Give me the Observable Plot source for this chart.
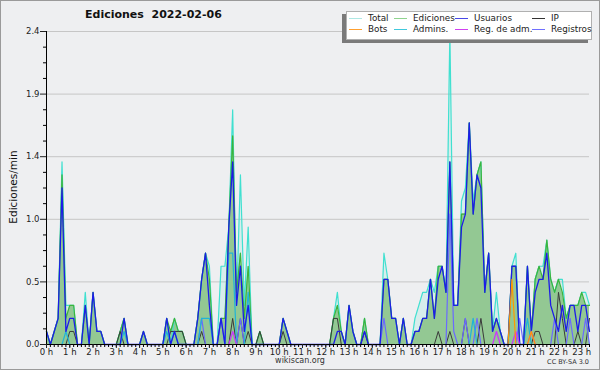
<!DOCTYPE html>
<html><head><meta charset="utf-8">
<script src="https://cdn.jsdelivr.net/npm/d3@7"></script>
<script src="https://cdn.jsdelivr.net/npm/@observablehq/plot@0.6"></script>
<style>
body{margin:0;background:#fff;}
#wrap{position:relative;width:600px;height:370px;background:#eeeff1;font-family:"DejaVu Sans",sans-serif;overflow:hidden;}
#chart{position:absolute;left:0;top:0;}
#frame{position:absolute;left:0;top:0;width:600px;height:370px;box-sizing:border-box;border:1px solid #9a9a9a;pointer-events:none;}
#title{position:absolute;left:85px;top:8px;font-weight:bold;font-size:11px;color:#111;white-space:pre;}
#ylab{position:absolute;left:13px;top:187px;font-size:10.5px;color:#111;transform:translate(-50%,-50%) rotate(-90deg);white-space:nowrap;}
#foot{position:absolute;left:300px;top:356px;font-size:8px;color:#333;transform:translateX(-50%);}
#cc{position:absolute;right:11px;top:358px;font-size:6.5px;color:#333;}
#legend{position:absolute;left:346px;top:11px;width:246px;height:29px;background:#fff;border:1px solid #b0b0b0;box-sizing:border-box;box-shadow:-4px 3px 0 #7a7a7a;}
.sw{position:absolute;width:13px;height:0;border-top:1.3px solid;}
.lt{position:absolute;font-size:8.8px;color:#222;line-height:10px;white-space:nowrap;}
</style></head>
<body><div id="wrap"><div id="chart"></div>
<div id="title">Ediciones  2022-02-06</div>
<div id="ylab">Ediciones/min</div>
<div id="foot">wikiscan.org</div>
<div id="cc">CC BY-SA 3.0</div>
<div id="legend"></div>
<div id="frame"></div>
</div>
<script>
// 10-minute bins from 0:00 to 23:20 (edits/min)
const total = [
 0.1,0,0.1,0.2,1.4,0.3, 0.3,0.3,0,0,0.4,0, 0.4,0.1,0.1,0,0,0, 0,0.1,0.2,0,0,0,
 0,0.1,0,0,0,0, 0,0.2,0,0.2,0.1,0.1, 0,0,0,0.2,0.5,0.7, 0.6,0,0,0.6,0.6,0.9,
 1.8,0.3,1.3,0.3,0.9,0, 0,0.1,0,0,0,0, 0,0.2,0.1,0,0,0, 0,0,0,0,0,0,
 0,0,0.2,0.4,0.1,0, 0.3,0.1,0,0,0.2,0, 0,0,0,0.7,0.5,0.2, 0.2,0,0.2,0,0,0.2,
 0.3,0.4,0.4,0.5,0.4,0.6, 0.6,0.4,2.4,0.3,0.3,1.1, 1.2,1.7,1.1,1.3,1.4,0.4, 0.7,0.1,0.4,0.1,0,0,
 0.6,0.7,0,0,0.6,0.1, 0.5,0.6,0.6,0.8,0.5,0.4, 0.5,0.5,0.2,0.3,0.3,0.3, 0.4,0.4,0.3
];
const ediciones = [
 0.1,0,0.1,0.2,1.3,0.2, 0.3,0.3,0,0,0.3,0, 0.4,0.1,0.1,0,0,0, 0,0.1,0.2,0,0,0,
 0,0.1,0,0,0,0, 0,0.2,0.1,0.2,0.1,0.1, 0,0,0,0.2,0.5,0.7, 0.5,0,0,0.2,0.2,0.9,
 1.6,0.4,0.7,0.2,0.6,0, 0,0.1,0,0,0,0, 0,0.2,0.1,0,0,0, 0,0,0,0,0,0,
 0,0,0.2,0.3,0.1,0, 0.3,0.1,0,0,0.2,0, 0,0,0,0.5,0.5,0.2, 0.2,0,0.2,0,0,0.1,
 0.1,0.2,0.2,0.5,0.2,0.6, 0.6,0.4,1.4,0.3,0.3,1.0, 1.0,1.7,1.0,1.3,1.4,0.4, 0.7,0.1,0.2,0.1,0,0,
 0.6,0.6,0,0,0.6,0.1, 0.5,0.6,0.5,0.8,0.5,0.4, 0.5,0.4,0.2,0.3,0.3,0.3, 0.4,0.3,0.3
];
const usuarios = [
 0.1,0,0.1,0.2,1.2,0.1, 0.2,0.2,0,0,0.3,0, 0.4,0.1,0.1,0,0,0, 0,0,0.2,0,0,0,
 0,0.1,0,0,0,0, 0,0.2,0,0.1,0,0, 0,0,0,0.2,0.5,0.7, 0.3,0,0,0.2,0,0.9,
 1.4,0.3,0.6,0.1,0.3,0, 0,0,0,0,0,0, 0,0.2,0.1,0,0,0, 0,0,0,0,0,0,
 0,0,0,0.1,0.1,0, 0.3,0.1,0,0,0.1,0, 0,0,0,0.5,0.5,0.2, 0.2,0,0.2,0,0,0.1,
 0.1,0.2,0.2,0.5,0.2,0.5, 0.6,0.4,1.4,0.3,0.3,0.9, 1.0,1.7,1.0,1.3,1.2,0.4, 0.7,0.1,0.2,0.1,0,0,
 0.6,0.6,0,0,0.6,0.1, 0.4,0.5,0.5,0.7,0.3,0.2, 0.1,0.3,0.1,0.3,0.3,0.1, 0.3,0.3,0.1
];
// sparse series: bin index and value
const ipBins = [6,7,19,32,33,34,35,40,48,50,52,55,61,74,75,82,101,104,108,112,126,127,132,133,137,140];
const ipVals = [0.1,0.1,0.1,0.1,0.1,0.1,0.1,0.1,0.2,0.2,0.1,0.1,0.1,0.2,0.2,0.1,0.1,0.1,0.2,0.2,0.1,0.1,0.4,0.2,0.1,0.2];
const botsBins = [120,125];
const botsVals = [0.5,0.1];
const adminsBins = [5,20,31,33,40,41,42,47,48,52,110,124];
const adminsVals = [0.1,0.1,0.1,0.1,0.2,0.2,0.2,0.7,0.7,0.4,0.2,0.2];
const regAdmBins = [48,116,121,125];
const regAdmVals = [0.1,0.1,0.1,0.1];
const registrosBins = [40,45,50,87,104,105,108,111,122,131,135,139];
const registrosVals = [0.2,0.2,0.2,0.2,1.0,0.1,0.2,0.2,0.2,0.2,0.2,0.2];

const yTickValues = [0, 0.48, 0.96, 1.44, 1.92, 2.4];
const yTickLabels = ["0.0", "0.5", "1.0", "1.4", "1.9", "2.4"];
const yMinorTicks = [0.12, 0.24, 0.36, 0.6, 0.72, 0.84, 1.08, 1.2, 1.32, 1.56, 1.68, 1.8, 2.04, 2.16, 2.28];
const xHourTicks = [0,1,2,3,4,5,6,7,8,9,10,11,12,13,14,15,16,17,18,19,20,21,22,23];

const legendNames = ["Total","Ediciones","Usuarios","IP","Bots","Admins.","Reg. de adm.","Registros"];
const legendColors = ["#aee8e4","#8fd48f","#4848e8","#333333","#ffa030","#40c8dc","#d040f0","#7070ff"];

const N = total.length;
const expand = (bins, vals) => { const a = new Array(N).fill(0); bins.forEach((b, k) => a[b] = vals[k]); return a; };
const rows = arr => arr.map((v, i) => ({t: i / 6, v}));

const C = {
  total: "#40e0d0", ed: "#3cb43c", usu: "#1c1ce8", ip: "#3a3a3a",
  bots: "#ff9900", adm: "#20b4d8", regadm: "#cc33ff", reg: "#6a6aff"
};
const line = (arr, stroke, w = 1.2) => Plot.lineY(rows(arr), {x: "t", y: "v", stroke, strokeWidth: w});

const chart = Plot.plot({
  width: 600, height: 370,
  marginLeft: 46, marginRight: 11, marginTop: 31, marginBottom: 26,
  x: {domain: [0, (N - 1) / 6]},
  y: {domain: [0, 2.4]},
  style: {background: "transparent", fontFamily: "DejaVu Sans", color: "#000"},
  marks: [
    Plot.ruleY(yTickValues.slice(1), {stroke: "#c6c6c6", strokeWidth: 1}),
    Plot.areaY(rows(total), {x: "t", y: "v", fill: "#40e0d0", fillOpacity: 0.13}),
    Plot.areaY(rows(ediciones), {x: "t", y: "v", fill: "#93c893"}),
    line(total, C.total),
    line(ediciones, C.ed),
    line(expand(ipBins, ipVals), C.ip, 1),
    line(expand(registrosBins, registrosVals), C.reg),
    line(expand(adminsBins, adminsVals), C.adm),
    line(usuarios, C.usu, 1.3),
    line(expand(regAdmBins, regAdmVals), C.regadm),
    line(expand(botsBins, botsVals), C.bots),
    Plot.ruleX([0], {stroke: "#000"}),
    Plot.ruleY([0], {stroke: "#000"}),
    Plot.axisY(yTickValues, {tickSize: 6, tickPadding: 1, fontSize: 8.5, label: null,
      tickFormat: d => yTickLabels[yTickValues.indexOf(d)], color: "#222"}),
    Plot.axisY(yMinorTicks, {tickSize: 3, tickFormat: () => "", label: null}),
    Plot.axisX(rows(total).map(d => d.t), {tickSize: 3, tickFormat: () => "", label: null}),
    Plot.axisX(xHourTicks, {tickSize: 4, tickPadding: 0, fontSize: 8.5, label: null,
      tickFormat: d => d + " h", color: "#222"})
  ]
});
document.getElementById("chart").appendChild(chart);

const lg = document.getElementById("legend");
const colX = [2, 47, 108, 185];
legendNames.forEach((name, k) => {
  const col = k % 4, row = Math.floor(k / 4);
  const sw = document.createElement("div");
  sw.className = "sw";
  sw.style.left = colX[col] + "px";
  sw.style.top = (6 + row * 11) + "px";
  sw.style.borderTopColor = legendColors[k];
  lg.appendChild(sw);
  const t = document.createElement("div");
  t.className = "lt";
  t.style.left = (colX[col] + 19) + "px";
  t.style.top = (1 + row * 11) + "px";
  t.textContent = name;
  lg.appendChild(t);
});
</script>
</body></html>
